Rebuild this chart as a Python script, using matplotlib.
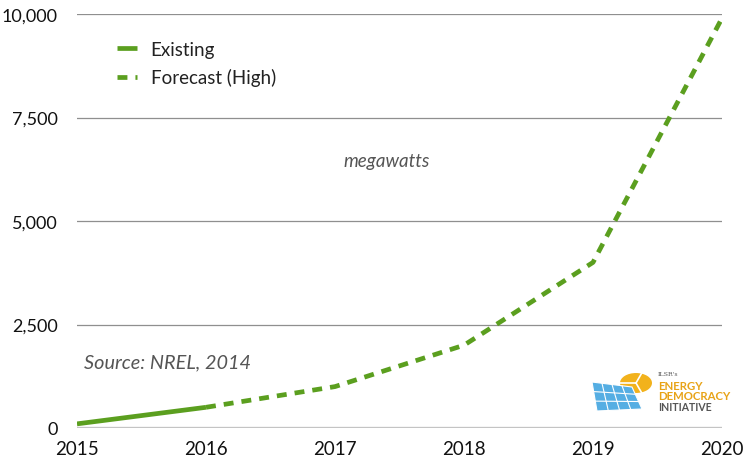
import matplotlib
matplotlib.use("Agg")
import matplotlib.pyplot as plt
from matplotlib.patches import Circle, Polygon
import numpy as np

years_existing = [2015, 2016]
values_existing = [100, 500]
years_forecast = [2016, 2017, 2018, 2019, 2020]
values_forecast = [500, 1000, 2000, 4000, 9900]
yticks = [0, 2500, 5000, 7500, 10000]
ytick_labels = ["0", "2,500", "5,000", "7,500", "10,000"]
xticks = [2015, 2016, 2017, 2018, 2019, 2020]

GREEN = "#5b9f1f"
plt.rcParams['font.family'] = ['Lato', 'DejaVu Sans']

W, H = 744, 464
fig = plt.figure(figsize=(W/100, H/100), dpi=100)
ax = fig.add_axes([77/W, 35/H, 645/W, 414/H])
ax.set_xlim(2015, 2020)
ax.set_ylim(0, 10000)

for y in yticks[1:]:
    ax.axhline(y, color="#8f8f8f", lw=0.9, zorder=0)
ax.axhline(0, color="#c4c4c4", lw=2.4, zorder=0)

ax.plot(years_existing, values_existing, color=GREEN, lw=3.4, solid_capstyle='butt',
        label="Existing", zorder=3)
ax.plot(years_forecast, values_forecast, color=GREEN, lw=3.4, ls=(0, (2.1, 1.7)),
        label="Forecast (High)", zorder=3)

for s in ax.spines.values():
    s.set_visible(False)
ax.set_yticks(yticks)
ax.set_yticklabels(ytick_labels)
ax.set_xticks(xticks)
ax.set_xticklabels([str(x) for x in xticks])
ax.tick_params(length=0, labelsize=13.5, colors="#111111")
ax.tick_params(axis='y', pad=14, labelsize=13)
ax.tick_params(axis='x', pad=9)

leg = ax.legend(loc="upper left", bbox_to_anchor=((117-77)/645, (429-42)/414),
                frameon=False, borderpad=0, borderaxespad=0,
                fontsize=13.5, handlelength=1.05, labelspacing=0.55, handletextpad=0.75)
for t in leg.get_texts():
    t.set_color("#222222")

fig.text(387/W, 1 - 162/H, "megawatts", ha="center", va="center",
         fontsize=13.5, style="italic", color="#555555")
fig.text(84/W, 1 - 363/H, "Source: NREL, 2014", ha="left", va="center",
         fontsize=14.3, style="italic", color="#555555")

def P(x, y):
    return (x/W, 1 - y/H)

# Logo
sun = Circle(P(636, 384), 16/W, transform=fig.transFigure,
             facecolor="#f2b21c", edgecolor="none", zorder=5)
fig.patches.append(sun)
cx, cy = 636, 384
for ang in [60, 180, 300]:
    a = np.deg2rad(ang)
    p0 = P(cx, cy); p1 = P(cx + 17*np.cos(a), cy - 17*np.sin(a))
    fig.add_artist(plt.Line2D([p0[0], p1[0]], [p0[1], p1[1]],
                              transform=fig.transFigure, color="white", lw=1.2, zorder=6))
TL, TR, BR, BL = (592, 383), (632, 388), (642, 410), (597, 412)
panel = Polygon([P(*TL), P(*TR), P(*BR), P(*BL)], closed=True, transform=fig.transFigure,
                facecolor="#55aee3", edgecolor="white", lw=0.8, zorder=7)
fig.patches.append(panel)
for f in [0.33, 0.66]:
    x0 = TL[0] + (BL[0]-TL[0])*f; y0 = TL[1] + (BL[1]-TL[1])*f
    x1 = TR[0] + (BR[0]-TR[0])*f; y1 = TR[1] + (BR[1]-TR[1])*f
    p0 = P(x0, y0); p1 = P(x1, y1)
    fig.add_artist(plt.Line2D([p0[0], p1[0]], [p0[1], p1[1]],
                              transform=fig.transFigure, color="white", lw=0.8, zorder=8))
for f in [0.25, 0.5, 0.75]:
    x0 = TL[0] + (TR[0]-TL[0])*f; y0 = TL[1] + (TR[1]-TL[1])*f
    x1 = BL[0] + (BR[0]-BL[0])*f; y1 = BL[1] + (BR[1]-BL[1])*f
    p0 = P(x0, y0); p1 = P(x1, y1)
    fig.add_artist(plt.Line2D([p0[0], p1[0]], [p0[1], p1[1]],
                              transform=fig.transFigure, color="white", lw=0.8, zorder=8))
fig.text(*P(658, 375), "ILSR's", fontsize=4.5, color="#555555",
         family="DejaVu Serif", va="center")
fig.text(*P(658, 387), "ENERGY", fontsize=8.2, color="#e8a317",
         weight="bold", va="center")
fig.text(*P(658, 397), "DEMOCRACY", fontsize=8.2, color="#e8a317",
         weight="bold", va="center")
fig.text(*P(658, 408), "INITIATIVE", fontsize=7.6, color="#555555",
         weight="bold", va="center")

fig.savefig("out.png", dpi=100)
